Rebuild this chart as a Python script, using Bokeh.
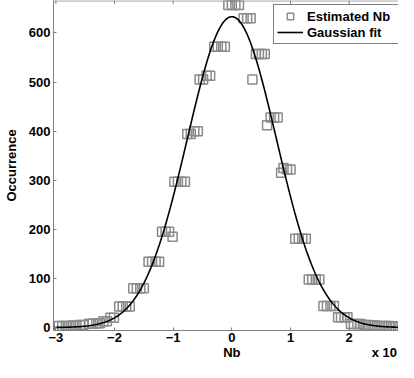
import numpy as np
from bokeh.plotting import figure
from bokeh.models import Range1d, Legend, LegendItem, Span, LinearAxis, FixedTicker
from bokeh.embed import file_html
from bokeh.resources import INLINE

# ---- data ----
nb_x = [
    -2.95, -2.89, -2.83, -2.77, -2.71, -2.65, -2.59, -2.53,
    -2.43, -2.37, -2.31, -2.25,
    -2.19, -2.13, -2.07, -2.01,
    -1.92, -1.86, -1.80, -1.74,
    -1.68, -1.62, -1.56, -1.50,
    -1.42, -1.36, -1.30, -1.24,
    -1.19, -1.13, -1.07, -1.01,
    -0.98, -0.92, -0.86, -0.80,
    -0.76, -0.70, -0.64, -0.58,
    -0.55, -0.49, -0.43, -0.37,
    -0.30, -0.24, -0.18, -0.12,
    -0.06, 0.00, 0.06, 0.12,
    0.20, 0.26, 0.32, 0.35,
    0.41, 0.46, 0.51, 0.56,
    0.60, 0.66, 0.72, 0.78,
    0.84, 0.88, 0.94, 1.00,
    1.08, 1.14, 1.20, 1.26,
    1.31, 1.37, 1.43, 1.49,
    1.56, 1.62, 1.68, 1.74,
    1.81, 1.86, 1.92, 1.97,
    2.03, 2.08, 2.14, 2.19,
    2.26, 2.32, 2.38, 2.44, 2.50, 2.56, 2.62, 2.68, 2.74, 2.80, 2.86, 2.92,
]
nb_count = [
    3, 3, 3, 3, 4, 4, 5, 5,
    8, 8, 9, 9,
    13, 13, 20, 20,
    43, 43, 43, 43,
    80, 80, 80, 80,
    134, 134, 134, 134,
    195, 195, 195, 185,
    297, 297, 297, 297,
    394, 394, 400, 400,
    505, 505, 513, 513,
    572, 572, 572, 572,
    657, 657, 657, 657,
    630, 630, 630, 505,
    557, 557, 557, 557,
    412, 428, 428, 428,
    315, 325, 322, 322,
    181, 181, 181, 181,
    98, 98, 98, 98,
    44, 44, 44, 44,
    21, 21, 21, 21,
    7, 7, 7, 7,
    5, 5, 4, 4, 3, 3, 3, 3, 2, 2, 2, 2,
]
fit_amplitude = 633.0
fit_mean = 0.0
fit_sigma = 0.76
x_ticks = [-3, -2, -1, 0, 1, 2, 3]
y_ticks = [0, 100, 200, 300, 400, 500, 600]
x_label = "Nb"
x_scale_note = "x 10"

FONT = "Liberation Sans"
AXIS_GREY = "#7f7f7f"
MARK_GREY = "#8a8a8a"
X_LO, X_HI = -3.04, 2.84
Y_LO, Y_HI = -6, 666

p = figure(width=398, height=362, output_backend="svg", toolbar_location=None,
           x_range=Range1d(X_LO, X_HI), y_range=Range1d(Y_LO, Y_HI),
           min_border_left=47, min_border_right=0, min_border_top=0,
           min_border_bottom=32)
p.outline_line_color = None
p.xgrid.grid_line_color = None
p.ygrid.grid_line_color = None
p.background_fill_color = "white"
p.border_fill_color = "white"

r_sq = p.scatter(nb_x, nb_count, marker="square", size=9,
                 fill_color=None, line_color=MARK_GREY, line_width=1.5)

fit_x = np.linspace(X_LO, X_HI, 400)
fit_y = fit_amplitude * np.exp(-((fit_x - fit_mean) ** 2) / (2 * fit_sigma ** 2))
r_fit = p.line(fit_x, fit_y, line_color="black", line_width=1.6)

# top frame line with inward ticks (MATLAB box style)
p.add_layout(Span(location=Y_HI - 0.8, dimension="width",
                  line_color=AXIS_GREY, line_width=1))
p.segment(x0=x_ticks, y0=[Y_HI] * len(x_ticks), x1=x_ticks,
          y1=[Y_HI - 7] * len(x_ticks), line_color=AXIS_GREY, line_width=1)


def style_labels(ax):
    ax.major_label_text_font = FONT
    ax.major_label_text_font_style = "bold"
    ax.major_label_text_font_size = "13px"
    ax.major_label_text_color = "black"
    ax.axis_label_text_font = FONT
    ax.axis_label_text_font_style = "bold"
    ax.axis_label_text_font_size = "13px"
    ax.axis_label_text_color = "black"


for ax in (p.xaxis[0], p.yaxis[0]):
    ax.axis_line_color = AXIS_GREY
    ax.major_tick_line_color = AXIS_GREY
    ax.major_tick_in = 3
    ax.major_tick_out = 0
    ax.minor_tick_line_color = None
    style_labels(ax)

p.xaxis.ticker = x_ticks
p.yaxis.ticker = y_ticks
p.yaxis.axis_label = "Occurrence"
p.xaxis.major_label_standoff = 2
p.yaxis.major_label_standoff = 3
p.yaxis.axis_label_standoff = 7

# second row below the x axis: the axis name and the "x 10" scale note
note_pos = 2.6
row2 = LinearAxis(ticker=FixedTicker(ticks=[0, note_pos]),
                  major_label_overrides={0: x_label, note_pos: x_scale_note},
                  axis_line_color=None, major_tick_line_color=None,
                  minor_tick_line_color=None, major_tick_in=0, major_tick_out=0,
                  major_label_standoff=0)
style_labels(row2)
p.add_layout(row2, "below")

legend = Legend(items=[LegendItem(label="Estimated Nb", renderers=[r_sq]),
                       LegendItem(label="Gaussian fit", renderers=[r_fit])],
                location=(220, 286), margin=0, padding=3, spacing=0,
                label_height=16, glyph_height=16, glyph_width=26,
                label_standoff=4, label_width=94,
                label_text_font=FONT, label_text_font_style="bold",
                label_text_font_size="13px", label_text_color="black",
                border_line_color="black", border_line_width=1,
                background_fill_color="white", background_fill_alpha=1.0)
p.add_layout(legend)

open("out.html", "w").write(file_html(p, INLINE))
